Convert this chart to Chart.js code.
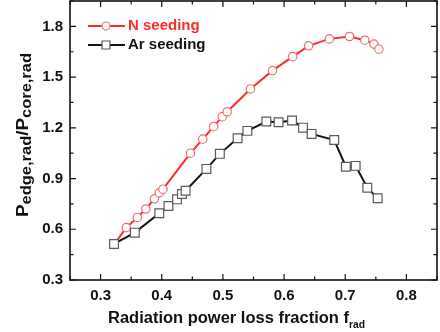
<!DOCTYPE html>
<html>
<head>
<meta charset="utf-8">
<script src="https://cdn.jsdelivr.net/npm/chart.js@4"></script>
<style>
html, body { margin: 0; padding: 0; background: #fff; }
</style>
</head>
<body>
<canvas id="chart" width="440" height="332"></canvas>
<script>
// Values
const nSeedX = [0.322, 0.342, 0.360, 0.374, 0.388, 0.396, 0.402, 0.447, 0.467, 0.485, 0.499, 0.507, 0.545, 0.581, 0.614, 0.640, 0.674, 0.707, 0.732, 0.747, 0.755];
const nSeedY = [0.51, 0.61, 0.67, 0.72, 0.78, 0.815, 0.837, 1.05, 1.133, 1.207, 1.266, 1.295, 1.43, 1.538, 1.621, 1.685, 1.726, 1.74, 1.718, 1.695, 1.665];
const arSeedX = [0.322, 0.356, 0.396, 0.411, 0.425, 0.433, 0.439, 0.473, 0.495, 0.524, 0.540, 0.571, 0.591, 0.613, 0.631, 0.645, 0.682, 0.701, 0.717, 0.736, 0.753];
const arSeedY = [0.513, 0.58, 0.695, 0.738, 0.777, 0.809, 0.828, 0.957, 1.046, 1.138, 1.182, 1.237, 1.233, 1.243, 1.201, 1.164, 1.128, 0.97, 0.975, 0.846, 0.783];
const xTicks = [0.3, 0.4, 0.5, 0.6, 0.7, 0.8];
const yTicks = [0.3, 0.6, 0.9, 1.2, 1.5, 1.8];
const xMinor = [0.25, 0.3, 0.35, 0.4, 0.45, 0.5, 0.55, 0.6, 0.65, 0.7, 0.75, 0.8, 0.85];
const yMinor = [0.3, 0.45, 0.6, 0.75, 0.9, 1.05, 1.2, 1.35, 1.5, 1.65, 1.8, 1.95];

const toPoints = (xs, ys) => xs.map((x, i) => ({ x: x, y: ys[i] }));

// Draw text pieces where some are subscripts; returns total width
function drawParts(ctx, parts, x, y, sizes, measureOnly) {
    let w = 0;
    parts.forEach(p => {
        ctx.font = 'bold ' + (p.sub ? sizes.sub : sizes.main) + 'px "Liberation Sans", Arial, sans-serif';
        if (!measureOnly) ctx.fillText(p.t, x + w, y + (p.sub ? sizes.shift : 0));
        w += ctx.measureText(p.t).width;
    });
    return w;
}

const framePlugin = {
    id: 'frame',
    afterDraw(chart) {
        const ctx = chart.ctx;
        const a = chart.chartArea;
        const xs = chart.scales.x, ys = chart.scales.y;
        ctx.save();
        ctx.strokeStyle = '#111';
        ctx.lineWidth = 1.6;
        ctx.strokeRect(a.left, a.top, a.right - a.left, a.bottom - a.top);

        // inward ticks on all four sides
        ctx.lineWidth = 1.2;
        ctx.beginPath();
        xMinor.forEach(v => {
            const px = xs.getPixelForValue(v);
            const len = xTicks.includes(v) ? 6 : 3.5;
            ctx.moveTo(px, a.bottom); ctx.lineTo(px, a.bottom - len);
            ctx.moveTo(px, a.top); ctx.lineTo(px, a.top + len);
        });
        yMinor.forEach(v => {
            const py = ys.getPixelForValue(v);
            const len = yTicks.includes(v) ? 6 : 3.5;
            ctx.moveTo(a.left, py); ctx.lineTo(a.left + len, py);
            ctx.moveTo(a.right, py); ctx.lineTo(a.right - len, py);
        });
        ctx.stroke();

        // legend
        const items = [
            { label: 'N seeding', color: '#ff2a2a', mark: '#f07070', circle: true, y: 26 },
            { label: 'Ar seeding', color: '#111', mark: '#555', circle: false, y: 45 }
        ];
        items.forEach(it => {
            ctx.strokeStyle = it.color;
            ctx.lineWidth = 2;
            ctx.beginPath();
            ctx.moveTo(88, it.y); ctx.lineTo(125, it.y);
            ctx.stroke();
            ctx.fillStyle = '#fff';
            ctx.strokeStyle = it.mark;
            ctx.lineWidth = 1.2;
            ctx.beginPath();
            if (it.circle) ctx.arc(106, it.y, 4, 0, Math.PI * 2);
            else ctx.rect(102, it.y - 4, 8, 8);
            ctx.fill();
            ctx.stroke();
            ctx.fillStyle = it.circle ? '#ff2a2a' : '#111';
            ctx.font = 'bold 15px "Liberation Sans", Arial, sans-serif';
            ctx.textBaseline = 'middle';
            ctx.fillText(it.label, 128, it.y);
        });

        // axis titles with subscripts
        ctx.fillStyle = '#111';
        ctx.textBaseline = 'alphabetic';
        const xSizes = { main: 16, sub: 10, shift: 5 };
        const xParts = [{ t: 'Radiation power loss fraction f' }, { t: 'rad', sub: true }];
        const xw = drawParts(ctx, xParts, 0, 0, xSizes, true);
        ctx.save();
        ctx.translate(236.5, 323);
        ctx.scale(257 / xw, 1);
        drawParts(ctx, xParts, -xw / 2, 0, xSizes);
        ctx.restore();

        const ySizes = { main: 16, sub: 14, shift: 3 };
        const yParts = [{ t: 'P' }, { t: 'edge,rad', sub: true }, { t: '/P' }, { t: 'core,rad', sub: true }];
        const yw = drawParts(ctx, yParts, 0, 0, ySizes, true);
        ctx.translate(28, 135);
        ctx.rotate(-Math.PI / 2);
        ctx.scale(164 / yw, 1);
        drawParts(ctx, yParts, -yw / 2, 0, ySizes);
        ctx.restore();
    }
};

const tickFont = { family: '"Liberation Sans", Arial, sans-serif', size: 15, weight: 'bold' };

new Chart(document.getElementById('chart'), {
    type: 'scatter',
    data: {
        datasets: [
            {
                label: 'Ar seeding',
                data: toPoints(arSeedX, arSeedY),
                showLine: true,
                borderColor: '#111',
                borderWidth: 2,
                pointStyle: 'rect',
                pointRadius: 6.2,
                pointBorderColor: '#5a5a5a',
                pointBorderWidth: 1.2,
                pointBackgroundColor: '#fff'
            },
            {
                label: 'N seeding',
                data: toPoints(nSeedX, nSeedY),
                showLine: true,
                borderColor: '#ff2a2a',
                borderWidth: 2,
                pointStyle: 'circle',
                pointRadius: 4.2,
                pointBorderColor: '#f07070',
                pointBorderWidth: 1.2,
                pointBackgroundColor: '#fff'
            }
        ]
    },
    options: {
        responsive: false,
        animation: false,
        layout: { autoPadding: false, padding: { top: 1, right: 3, left: 0, bottom: 0 } },
        plugins: { legend: { display: false }, tooltip: { enabled: false } },
        scales: {
            x: {
                type: 'linear',
                min: 0.25,
                max: 0.85,
                grid: { display: false, drawTicks: false },
                border: { display: false },
                afterBuildTicks: s => { s.ticks = xTicks.map(v => ({ value: v })); },
                afterFit: s => { s.height = 52; s.paddingLeft = 0; s.paddingRight = 0; },
                ticks: { font: tickFont, color: '#111', padding: 7, maxRotation: 0, callback: v => v.toFixed(1) }
            },
            y: {
                type: 'linear',
                min: 0.3,
                max: 1.95,
                grid: { display: false, drawTicks: false },
                border: { display: false },
                afterBuildTicks: s => { s.ticks = yTicks.map(v => ({ value: v })); },
                afterFit: s => { s.width = 70; s.paddingTop = 0; s.paddingBottom = 0; },
                ticks: { font: tickFont, color: '#111', padding: 7, callback: v => v.toFixed(1) }
            }
        }
    },
    plugins: [framePlugin]
});
</script>
</body>
</html>
